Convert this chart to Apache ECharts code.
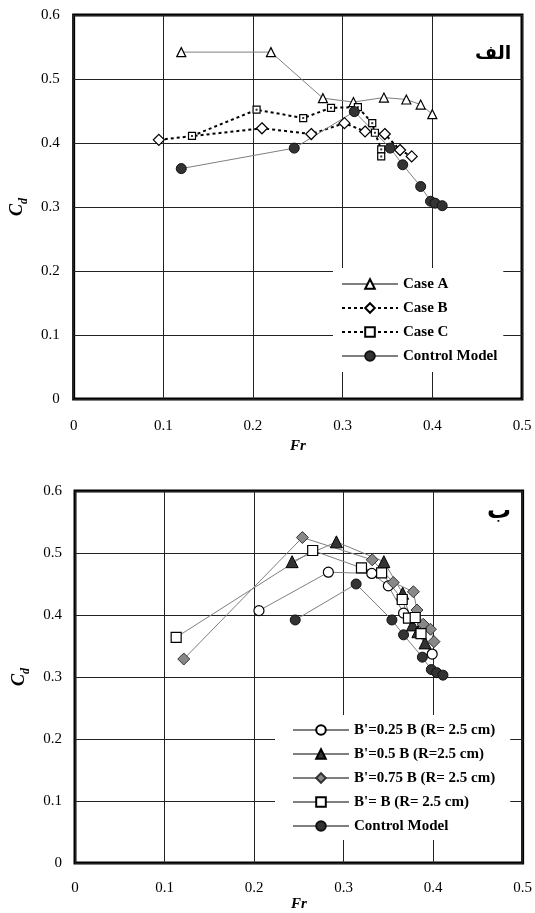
<!DOCTYPE html>
<html>
<head>
<meta charset="utf-8">
<script src="https://cdn.jsdelivr.net/npm/echarts@6/dist/echarts.min.js"></script>
<style>
html,body{margin:0;padding:0;background:#fff;}
#chart{width:535px;height:913px;}
</style>
</head>
<body>
<div id="chart"></div>
<script>
// ---- Top panel (الف) ----
var caseA_Fr = [0.120, 0.220, 0.278, 0.312, 0.346, 0.371, 0.387, 0.400];
var caseA_Cd = [0.542, 0.542, 0.470, 0.464, 0.471, 0.468, 0.460, 0.445];
var caseB_Fr = [0.095, 0.210, 0.265, 0.302, 0.325, 0.347, 0.364, 0.377];
var caseB_Cd = [0.405, 0.423, 0.414, 0.431, 0.418, 0.414, 0.389, 0.379];
var caseC_Fr = [0.132, 0.204, 0.256, 0.287, 0.317, 0.333, 0.336, 0.343, 0.343];
var caseC_Cd = [0.411, 0.452, 0.439, 0.455, 0.456, 0.431, 0.416, 0.390, 0.379];
var ctrlTop_Fr = [0.120, 0.246, 0.313, 0.353, 0.367, 0.387, 0.398, 0.403, 0.411];
var ctrlTop_Cd = [0.360, 0.392, 0.449, 0.392, 0.366, 0.332, 0.309, 0.306, 0.302];

// ---- Bottom panel (ب) ----
var b025_Fr = [0.2055, 0.283, 0.3315, 0.350, 0.367, 0.399];
var b025_Cd = [0.407, 0.469, 0.467, 0.447, 0.403, 0.337];
var b05_Fr = [0.2425, 0.292, 0.345, 0.366, 0.377, 0.383, 0.391];
var b05_Cd = [0.486, 0.518, 0.486, 0.435, 0.384, 0.373, 0.355];
var b075_Fr = [0.1215, 0.254, 0.332, 0.3555, 0.378, 0.382, 0.389, 0.397, 0.401];
var b075_Cd = [0.329, 0.525, 0.489, 0.4525, 0.4375, 0.408, 0.385, 0.377, 0.357];
var b1_Fr = [0.113, 0.2655, 0.320, 0.3425, 0.3655, 0.3725, 0.380, 0.3865];
var b1_Cd = [0.364, 0.504, 0.476, 0.468, 0.425, 0.395, 0.396, 0.370];
var ctrlBot_Fr = [0.246, 0.314, 0.354, 0.367, 0.388, 0.398, 0.404, 0.411];
var ctrlBot_Cd = [0.392, 0.450, 0.392, 0.368, 0.332, 0.312, 0.307, 0.303];

var xTicks = ['0', '0.1', '0.2', '0.3', '0.4', '0.5'];
var yTicks = ['0', '0.1', '0.2', '0.3', '0.4', '0.5', '0.6'];
var topLegend = ['Case A', 'Case B', 'Case C', 'Control Model'];
var botLegend = ["B'=0.25 B (R= 2.5 cm)", "B'=0.5 B (R=2.5 cm)", "B'=0.75 B (R= 2.5 cm)", "B'= B (R= 2.5 cm)", 'Control Model'];

function zip(a, b) { return a.map(function (v, i) { return [v, b[i]]; }); }

var serif = 'Liberation Serif';
function xAxis(idx, margin, gap) {
  return {
    gridIndex: idx, type: 'value', min: 0, max: 0.5, interval: 0.1,
    axisLine: { show: false }, axisTick: { show: false },
    splitLine: { show: true, lineStyle: { color: '#222', width: 1 } },
    axisLabel: { margin: margin, fontFamily: serif, fontSize: 15, color: '#000',
      formatter: function (v) { return xTicks[Math.round(v * 10)]; } },
    name: 'Fr', nameLocation: 'middle', nameGap: gap,
    nameTextStyle: { fontFamily: serif, fontWeight: 'bold', fontStyle: 'italic', fontSize: 15, color: '#000' }
  };
}
function yAxis(idx, margin) {
  return {
    gridIndex: idx, type: 'value', min: 0, max: 0.6, interval: 0.1,
    axisLine: { show: false }, axisTick: { show: false },
    splitLine: { show: true, lineStyle: { color: '#222', width: 1 } },
    axisLabel: { margin: margin, fontFamily: serif, fontSize: 15, color: '#000',
      formatter: function (v) { return yTicks[Math.round(v * 10)]; } },
    name: '{c|C}{d|d}', nameLocation: 'middle', nameGap: 40, nameRotate: 90,
    nameTextStyle: {
      rich: {
        c: { fontFamily: serif, fontWeight: 'bold', fontStyle: 'italic', fontSize: 18, color: '#000', lineHeight: 22, verticalAlign: 'top' },
        d: { fontFamily: serif, fontWeight: 'bold', fontStyle: 'italic', fontSize: 12, color: '#000', lineHeight: 22, verticalAlign: 'bottom' }
      }
    }
  };
}

var grayLine = { color: '#7f7f7f', width: 1 };
var dotLine = { color: '#000', width: 2, type: [3, 3] };

var option = {
  animation: false,
  backgroundColor: '#fff',
  grid: [
    { left: 67, top: 15, width: 455, height: 384, show: true, borderColor: '#000', borderWidth: 3, backgroundColor: 'transparent' },
    { left: 75, top: 491, width: 455, height: 372, show: true, borderColor: '#000', borderWidth: 3, backgroundColor: 'transparent' }
  ],
  xAxis: [xAxis(0, 20, 40), xAxis(1, 18, 34)],
  yAxis: [yAxis(0, 14), yAxis(1, 13)],
  legend: [
    {
      data: topLegend, orient: 'vertical', left: 333, top: 268,
      padding: [8, 6, 8, 8], itemGap: 8, itemWidth: 56, itemHeight: 12,
      backgroundColor: '#fff', selectedMode: false,
      textStyle: { fontFamily: serif, fontWeight: 'bold', fontSize: 15, color: '#000', lineHeight: 16 }
    },
    {
      data: botLegend, orient: 'vertical', left: 275, top: 715,
      padding: [7, 15, 6, 17], itemGap: 8, itemWidth: 56, itemHeight: 12,
      backgroundColor: '#fff', selectedMode: false,
      textStyle: { fontFamily: serif, fontWeight: 'bold', fontSize: 15, color: '#000', lineHeight: 16 }
    }
  ],
  graphic: [
    { type: 'text', left: 475, top: 45, style: { text: 'الف', font: 'bold 19px "DejaVu Sans"', fill: '#000' }, z: 100 },
    { type: 'text', left: 487, top: 500, style: { text: 'ب', font: 'bold 24px "DejaVu Sans"', fill: '#000' }, z: 100 }
  ],
  series: [
    { name: 'Case A', type: 'line', xAxisIndex: 0, yAxisIndex: 0, data: zip(caseA_Fr, caseA_Cd),
      symbol: 'triangle', symbolSize: 9, lineStyle: grayLine,
      itemStyle: { color: '#fff', borderColor: '#000', borderWidth: 1.2 } },
    { name: 'Case B', type: 'line', xAxisIndex: 0, yAxisIndex: 0, data: zip(caseB_Fr, caseB_Cd),
      symbol: 'diamond', symbolSize: 11, lineStyle: dotLine,
      itemStyle: { color: '#fff', borderColor: '#000', borderWidth: 1.2 } },
    { name: 'Case C', type: 'line', xAxisIndex: 0, yAxisIndex: 0, data: zip(caseC_Fr, caseC_Cd),
      symbol: 'rect', symbolSize: 7, lineStyle: dotLine,
      itemStyle: { color: '#fff', borderColor: '#000', borderWidth: 1.2 } },
    { name: 'Case C dot', type: 'scatter', xAxisIndex: 0, yAxisIndex: 0, data: zip(caseC_Fr, caseC_Cd),
      symbol: 'rect', symbolSize: 2, itemStyle: { color: '#000' }, z: 5 },
    { name: 'Control Model', type: 'line', xAxisIndex: 0, yAxisIndex: 0, data: zip(ctrlTop_Fr, ctrlTop_Cd),
      symbol: 'circle', symbolSize: 10, lineStyle: grayLine,
      itemStyle: { color: '#333', borderColor: '#111', borderWidth: 1 } },

    { name: botLegend[0], type: 'line', xAxisIndex: 1, yAxisIndex: 1, data: zip(b025_Fr, b025_Cd),
      symbol: 'circle', symbolSize: 10, lineStyle: grayLine,
      itemStyle: { color: '#fff', borderColor: '#000', borderWidth: 1.2 } },
    { name: botLegend[1], type: 'line', xAxisIndex: 1, yAxisIndex: 1, data: zip(b05_Fr, b05_Cd),
      symbol: 'triangle', symbolSize: 12, lineStyle: grayLine,
      itemStyle: { color: '#333', borderColor: '#000', borderWidth: 1 } },
    { name: botLegend[2], type: 'line', xAxisIndex: 1, yAxisIndex: 1, data: zip(b075_Fr, b075_Cd),
      symbol: 'diamond', symbolSize: 12, lineStyle: grayLine,
      itemStyle: { color: '#888', borderColor: '#333', borderWidth: 1 } },
    { name: botLegend[3], type: 'line', xAxisIndex: 1, yAxisIndex: 1, data: zip(b1_Fr, b1_Cd),
      symbol: 'rect', symbolSize: 10, lineStyle: grayLine,
      itemStyle: { color: '#fff', borderColor: '#000', borderWidth: 1.2 } },
    { name: botLegend[4], type: 'line', xAxisIndex: 1, yAxisIndex: 1, data: zip(ctrlBot_Fr, ctrlBot_Cd),
      symbol: 'circle', symbolSize: 10, lineStyle: grayLine,
      itemStyle: { color: '#333', borderColor: '#111', borderWidth: 1 } }
  ]
};

var chart = echarts.init(document.getElementById('chart'), null, { renderer: 'canvas' });
chart.setOption(option);
</script>
</body>
</html>
